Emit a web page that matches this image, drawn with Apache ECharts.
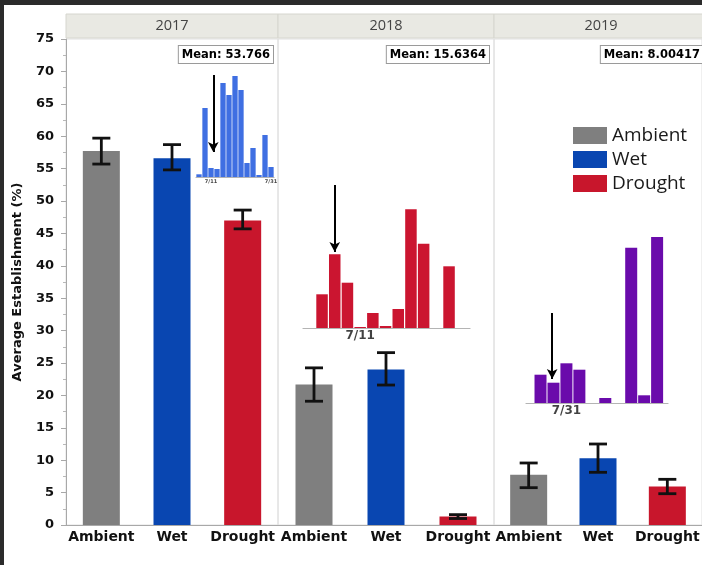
<!DOCTYPE html>
<html>
<head>
<meta charset="utf-8">
<script src="https://cdn.jsdelivr.net/npm/echarts@6/dist/echarts.min.js"></script>
<style>
html,body{margin:0;padding:0;background:#fff;}
#chart{width:702px;height:565px;}
</style>
</head>
<body>
<div id="chart"></div>
<script>
// Panels and treatments
const years = ['2017', '2018', '2019'];
const treatments = ['Ambient', 'Wet', 'Drought'];
const treatmentColors = ['#7f7f7f', '#0946b1', '#c8162c'];

// Average establishment (%) per treatment, one array per year
const est2017 = [57.7, 56.6, 47.0];
const est2018 = [21.7, 24.0, 1.3];
const est2019 = [7.75, 10.3, 5.96];

// Error bar limits (low / high)
const low2017 = [55.7, 54.8, 45.7];
const high2017 = [59.7, 58.7, 48.6];
const low2018 = [19.1, 21.6, 1.0];
const high2018 = [24.25, 26.6, 1.6];
const low2019 = [5.76, 8.13, 4.83];
const high2019 = [9.57, 12.5, 7.05];

const meanLabels = ['Mean: 53.766', 'Mean: 15.6364', 'Mean: 8.00417'];

// Y axis ticks
const yMin = 0, yMax = 75, yStep = 5;

// Daily establishment insets (relative bar heights)
const inset2017 = [2.7, 69, 9, 8, 94, 82, 101, 87, 14, 29, 2, 42, 10];
const inset2018 = [33.7, 73.7, 45.3, 1, 15, 2, 19, 118.7, 84.3, 0, 61.7];
const inset2019 = [28.3, 20.3, 39.7, 33.3, 0, 5, 0, 155.3, 7.7, 166];
const insetColors = ['#3f6fe2', '#cb1530', '#6a0bab'];

// Arrows: [x position, start height, tip height]
const arrow2017 = [2.38, 102, 25];
const arrow2018 = [1, 143, 76];
const arrow2019 = [0.9, 90, 24];

// Date tick labels on the insets: [x position, text]
const dates2017 = [[2, '7/11'], [12, '7/31']];
const dates2018 = [[3, '7/11']];
const dates2019 = [[2, '7/31']];

const est = [est2017, est2018, est2019];
const lows = [low2017, low2018, low2019];
const highs = [high2017, high2018, high2019];

// panel layout
const panelLeft = [66, 278, 494];
const panelWidth = [212, 216, 214];
const plotTop = 39, plotHeight = 486;

// inset layout
const insets = [
  { data: inset2017, arrow: arrow2017, dates: dates2017, left: 196, top: 72, width: 78, height: 105, xMin: -0.5, xMax: 12.5, barWidth: 5.3, dateFont: 5 },
  { data: inset2018, arrow: arrow2018, dates: dates2018, left: 303, top: 180, width: 167, height: 148, xMin: -1.5, xMax: 11.65, barWidth: 11.5, dateFont: 12 },
  { data: inset2019, arrow: arrow2019, dates: dates2019, left: 526, top: 233, width: 142, height: 170, xMin: -1.12, xMax: 9.84, barWidth: 12, dateFont: 12 }
];

const grids = [], xAxes = [], yAxes = [], series = [], graphics = [];

// frame strips
graphics.push({ type: 'rect', shape: { x: 0, y: 0, width: 702, height: 5 }, style: { fill: '#2b2b2b' }, z: 100 });
graphics.push({ type: 'rect', shape: { x: 0, y: 0, width: 4, height: 565 }, style: { fill: '#2b2b2b' }, z: 100 });

years.forEach((yr, g) => {
  grids.push({ left: panelLeft[g], top: plotTop, width: panelWidth[g], height: plotHeight,
    show: true, borderColor: '#e0e0e0', borderWidth: 1, backgroundColor: 'transparent' });
  xAxes.push({
    type: 'category', gridIndex: g, data: treatments,
    axisLine: { lineStyle: { color: '#a8a8a8', width: 1 } },
    axisTick: { show: false },
    axisLabel: { fontFamily: 'DejaVu Sans', fontWeight: 'bold', fontSize: 14, color: '#111', margin: 5, interval: 0 }
  });
  const first = g === 0;
  yAxes.push({
    type: 'value', gridIndex: g, min: yMin, max: yMax, interval: yStep,
    splitLine: { show: false },
    axisLine: { show: first, lineStyle: { color: '#a8a8a8' } },
    axisTick: { show: first, length: 5, lineStyle: { color: '#a8a8a8' } },
    minorTick: { show: first, splitNumber: 2, length: 3, lineStyle: { color: '#b8b8b8' } },
    axisLabel: { show: first, fontFamily: 'DejaVu Sans', fontWeight: 'bold', fontSize: 13, color: '#111', margin: 12 },
    name: first ? 'Average Establishment (%)' : '',
    nameLocation: 'middle', nameGap: 42,
    nameTextStyle: { fontFamily: 'DejaVu Sans', fontWeight: 'bold', fontSize: 13, color: '#111' }
  });

  treatments.forEach((t, k) => {
    series.push({
      type: 'bar', name: t, xAxisIndex: g, yAxisIndex: g,
      data: treatments.map((_, j) => (j === k ? est[g][k] : null)),
      barWidth: 37, barGap: '-100%',
      itemStyle: { color: treatmentColors[k] }
    });
  });

  series.push({
    type: 'custom', xAxisIndex: g, yAxisIndex: g,
    data: treatments.map((_, k) => [k, lows[g][k], highs[g][k]]),
    encode: { x: 0, y: [1, 2] },
    z: 5,
    renderItem: function (params, api) {
      const x = api.value(0);
      const a = api.coord([x, api.value(1)]);
      const b = api.coord([x, api.value(2)]);
      const w = 9, st = { stroke: '#111', lineWidth: 2.8 };
      return { type: 'group', children: [
        { type: 'line', shape: { x1: a[0], y1: a[1], x2: b[0], y2: b[1] }, style: st },
        { type: 'line', shape: { x1: a[0] - w, y1: a[1], x2: a[0] + w, y2: a[1] }, style: st },
        { type: 'line', shape: { x1: b[0] - w, y1: b[1], x2: b[0] + w, y2: b[1] }, style: st }
      ] };
    }
  });

  // year header strip
  graphics.push({ type: 'rect', shape: { x: panelLeft[g], y: 14, width: panelWidth[g], height: 24 },
    style: { fill: '#e9e9e3', stroke: '#d6d6cf', lineWidth: 1 }, z: 10 });
  graphics.push({ type: 'text', x: panelLeft[g] + panelWidth[g] / 2, y: 26, z: 11,
    style: { text: yr, align: 'center', verticalAlign: 'middle', font: '14.5px "Open Sans"', fill: '#444' } });
  // mean label box
  graphics.push({ type: 'text', x: panelLeft[g] + panelWidth[g] - 5, y: 46, z: 11,
    style: { text: meanLabels[g], align: 'right', verticalAlign: 'top', font: 'bold 11.5px "DejaVu Sans"', fill: '#000',
      backgroundColor: '#fff', borderColor: '#9a9a9a', borderWidth: 1, padding: [3, 3, 2, 3] } });
});

// insets
insets.forEach((ins, i) => {
  const gi = grids.length;
  grids.push({ left: ins.left, top: ins.top, width: ins.width, height: ins.height });
  xAxes.push({ type: 'value', gridIndex: gi, min: ins.xMin, max: ins.xMax,
    axisLine: { show: true, onZero: false, lineStyle: { color: '#b4b4b4', width: 1.2 } },
    axisTick: { show: false }, axisLabel: { show: false }, splitLine: { show: false } });
  yAxes.push({ type: 'value', gridIndex: gi, min: 0, max: ins.height, show: false, splitLine: { show: false } });
  series.push({
    type: 'bar', xAxisIndex: gi, yAxisIndex: gi, z: 6,
    data: ins.data.map((v, k) => [k, v]),
    barWidth: ins.barWidth,
    itemStyle: { color: insetColors[i] },
    markLine: {
      silent: true, symbol: ['none', 'arrow'], symbolSize: [8, 10],
      lineStyle: { color: '#000', width: 2, type: 'solid' },
      label: { show: false },
      data: [[{ coord: [ins.arrow[0], ins.arrow[1]] }, { coord: [ins.arrow[0], ins.arrow[2]] }]]
    }
  });
  series.push({
    type: 'scatter', xAxisIndex: gi, yAxisIndex: gi, z: 7, clip: false, symbolSize: 0,
    data: ins.dates.map(d => [d[0], 0, d[1]]),
    label: { show: true, position: 'bottom', distance: 2, formatter: p => p.value[2],
      fontFamily: 'DejaVu Sans', fontWeight: 'bold', fontSize: ins.dateFont, color: '#111' }
  });
});

const chart = echarts.init(document.getElementById('chart'), null, { renderer: 'canvas' });
chart.setOption({
  backgroundColor: '#fff',
  animation: false,
  grid: grids,
  xAxis: xAxes,
  yAxis: yAxes,
  legend: {
    data: treatments, orient: 'vertical', left: 568, top: 121,
    icon: 'rect', itemWidth: 34, itemHeight: 17, itemGap: 5,
    textStyle: { fontFamily: 'Open Sans', fontSize: 19, color: '#1a1a1a' },
    selectedMode: false
  },
  series: series,
  graphic: graphics
});
</script>
</body>
</html>
